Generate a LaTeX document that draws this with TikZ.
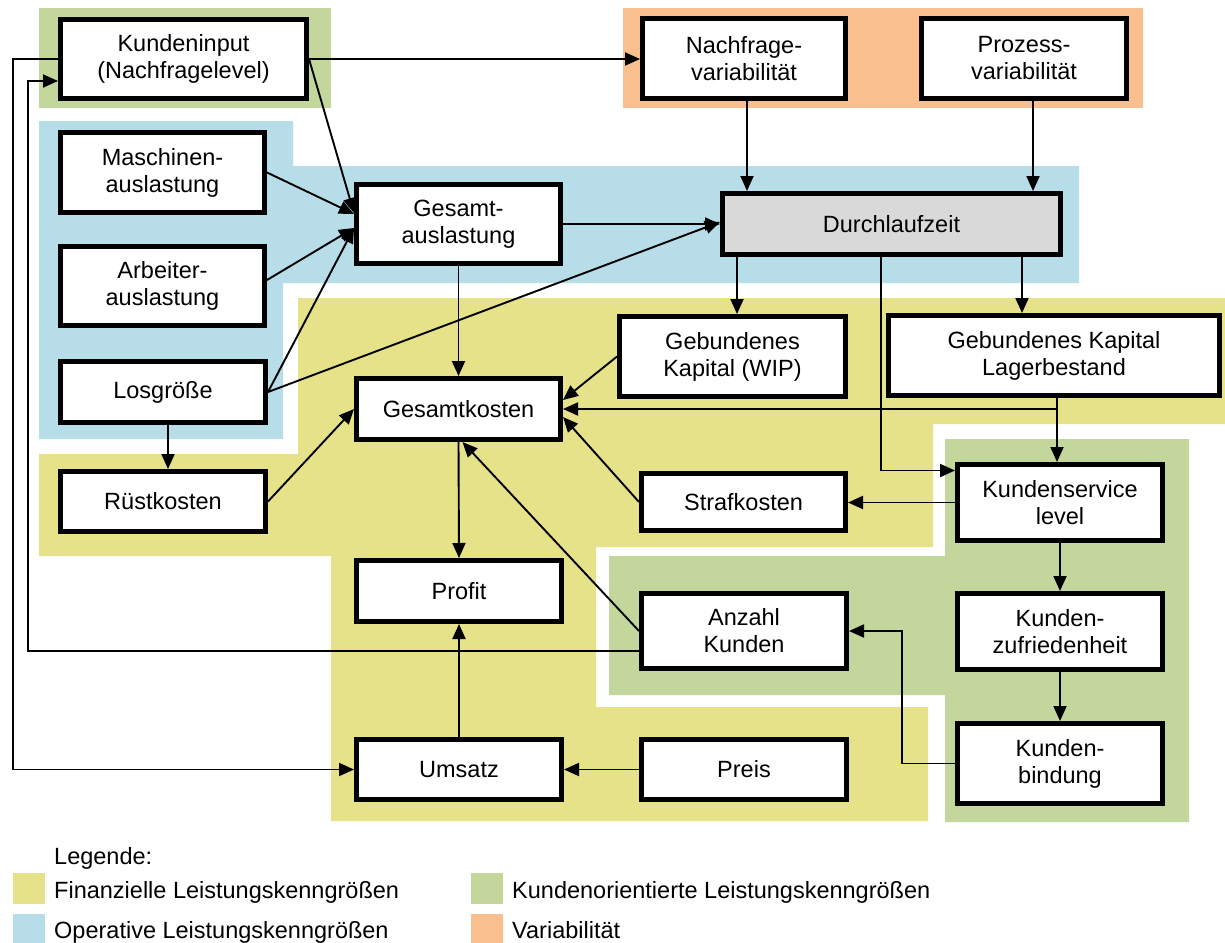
\documentclass[tikz,border=0pt]{standalone}
\usepackage{fontspec}
\setmainfont{Liberation Sans}
\usetikzlibrary{arrows.meta,calc}

\definecolor{finanz}{RGB}{230,226,138}
\definecolor{operativ}{RGB}{183,221,232}
\definecolor{kunde}{RGB}{195,214,155}
\definecolor{variab}{RGB}{249,191,143}
\definecolor{grau}{RGB}{217,217,217}

\begin{document}
\begin{tikzpicture}[x=1pt,y=-1pt,
  box/.style={draw, line width=5pt, fill=white, align=center, inner sep=0pt,
    font=\fontsize{23.5}{27}\selectfont},
  conn/.style={line width=1.9pt, -{Triangle[length=15pt,width=13pt]}},
  swatch/.style={inner sep=0pt, minimum width=32pt, minimum height=31pt},
  legtext/.style={anchor=base west, inner sep=0pt, font=\fontsize{23.5}{27}\selectfont}]

\fill[white] (0,0) rectangle (1225,942);
\useasboundingbox (0,0) rectangle (1225,942);

% ---- coloured groups ----
\fill[kunde] (39,8) rectangle (331,108);
\fill[variab] (623,8) rectangle (1143,108);
\fill[operativ] (39,121) -- (293,121) -- (293,166) -- (1079,166) -- (1079,283)
  -- (283,283) -- (283,439) -- (39,439) -- cycle;
\fill[finanz] (298,298) -- (1225,298) -- (1225,424) -- (933,424) -- (933,547)
  -- (596,547) -- (596,707) -- (928,707) -- (928,821) -- (331,821) -- (331,556)
  -- (39,556) -- (39,454) -- (298,454) -- cycle;
\fill[kunde] (945,439) -- (1189,439) -- (1189,822) -- (945,822) -- (945,695)
  -- (609,695) -- (609,556) -- (945,556) -- cycle;

% ---- key figures ----
\node[box, minimum width=246pt, minimum height=79pt] (kin) at (183.5,59) {Kundeninput\\(Nachfragelevel)};
\node[box, minimum width=204pt, minimum height=80pt] (mas) at (162.5,172.5) {Maschinen-\\auslastung};
\node[box, minimum width=204pt, minimum height=79pt] (arb) at (162.5,286) {Arbeiter-\\auslastung};
\node[box, minimum width=205pt, minimum height=61pt] (los) at (163,392) {Losgröße};
\node[box, minimum width=205pt, minimum height=60pt] (rue) at (163,501.5) {Rüstkosten};
\node[box, minimum width=204pt, minimum height=79pt] (gau) at (458.5,224) {Gesamt-\\auslastung};
\node[box, minimum width=204pt, minimum height=61pt] (gko) at (458.5,409) {Gesamtkosten};
\node[box, minimum width=205pt, minimum height=61pt] (pro) at (459,591) {Profit};
\node[box, minimum width=205pt, minimum height=60pt] (ums) at (459,769.5) {Umsatz};
\node[box, minimum width=205pt, minimum height=60pt] (pre) at (744,769.5) {Preis};
\node[box, minimum width=205pt, minimum height=75pt] (anz) at (744,631) {Anzahl\\Kunden};
\node[box, minimum width=204pt, minimum height=57pt] (str) at (743.5,502) {Strafkosten};
\node[box, minimum width=226pt, minimum height=80pt] (wip) at (732.5,356.5) {Gebundenes\\Kapital (WIP)};
\node[box, minimum width=331pt, minimum height=80pt] (lag) at (1054,355.5) {Gebundenes Kapital\\Lagerbestand};
\node[box, fill=grau, minimum width=338pt, minimum height=61pt] (dlz) at (891.5,224) {Durchlaufzeit};
\node[box, minimum width=203pt, minimum height=80pt] (nvar) at (744,58.5) {Nachfrage-\\variabilität};
\node[box, minimum width=205pt, minimum height=80pt] (pvar) at (1024,58.5) {Prozess-\\variabilität};
\node[box, minimum width=205pt, minimum height=76pt] (ksl) at (1060,502.5) {Kundenservice\\level};
\node[box, minimum width=205pt, minimum height=76pt] (kzf) at (1060,631.5) {Kunden-\\zufriedenheit};
\node[box, minimum width=205pt, minimum height=80pt] (kbi) at (1060,763.5) {Kunden-\\bindung};

% ---- routing points ----
\coordinate (loopA) at (28,81);
\coordinate (loopB) at (13,769.5);
\coordinate (loopC) at (902,631);

% ---- connectors ----
\draw[conn] (kin.east) -- (kin.east -| nvar.west);
\draw[conn] (kin.east) -- ([yshift=11pt]gau.west);
\draw[conn] (mas.east) -- ([yshift=10pt]gau.west);
\draw[conn] ([yshift=6pt]arb.east) -- ([yshift=-4pt]gau.west);
\draw[conn] (los.east) -- ([yshift=-4pt]gau.west);
\draw[conn] (los.east) -- ([yshift=2pt]dlz.west);
\draw[conn] (gau.east) -- (dlz.west);
\draw[conn] (gau.south) -- (gko.north);
\draw[conn] (gko.south) -- (pro.north);
\draw[conn] (ums.north) -- (pro.south);
\draw[conn] (pre.west) -- (ums.east);
\draw[conn] (anz.west) -- ([xshift=4pt]gko.south);
\draw[conn] ([yshift=-20pt]anz.west) -| (loopA) -- ([yshift=-22pt]kin.west);
\draw[conn] (kin.west) -| (loopB) -- (ums.west);
\draw[conn] ([xshift=5pt]los.south) -- ([xshift=5pt]rue.north);
\draw[conn] (rue.east) -- (gko.west);
\draw[conn] (wip.west) -- ([yshift=9pt]gko.east);
\draw[conn] ([xshift=3pt]lag.south) |- (gko.east);
\draw[conn] ([xshift=3pt]lag.south) -- ([xshift=3pt]lag.south |- ksl.north);
\draw[conn] (str.west) -- ([yshift=-8pt]gko.east);
\draw[conn] (ksl.west) -- (ksl.west -| str.east);
\draw[conn] ([xshift=-10.5pt]dlz.south) |- ([yshift=32pt]ksl.west);
\draw[conn] ([xshift=130.5pt]dlz.south) -- ([xshift=130.5pt]dlz.south |- lag.north);
\draw[conn] ([xshift=-154.5pt]dlz.south) -- ([xshift=-154.5pt]dlz.south |- wip.north);
\draw[conn] ([xshift=3pt]nvar.south) -- ([xshift=3pt]nvar.south |- dlz.north);
\draw[conn] ([xshift=9pt]pvar.south) -- ([xshift=9pt]pvar.south |- dlz.north);
\draw[conn] (ksl.south) -- (kzf.north);
\draw[conn] (kzf.south) -- (kbi.north);
\draw[conn] (kbi.west) -| (loopC) -- (anz.east);

% ---- legend ----
\node[legtext] (leg) at (54,864) {Legende:};
\node[swatch, fill=finanz] (sw1) at (29,888.5) {};
\node[legtext] (lt1) at (54,898) {Finanzielle Leistungskenngrößen};
\node[swatch, fill=operativ] (sw2) at (29,929.5) {};
\node[legtext] (lt2) at (54,938) {Operative Leistungskenngrößen};
\node[swatch, fill=kunde] (sw3) at (487,888.5) {};
\node[legtext] (lt3) at (512,898) {Kundenorientierte Leistungskenngrößen};
\node[swatch, fill=variab] (sw4) at (487,929.5) {};
\node[legtext] (lt4) at (512,938) {Variabilität};
\end{tikzpicture}
\end{document}
